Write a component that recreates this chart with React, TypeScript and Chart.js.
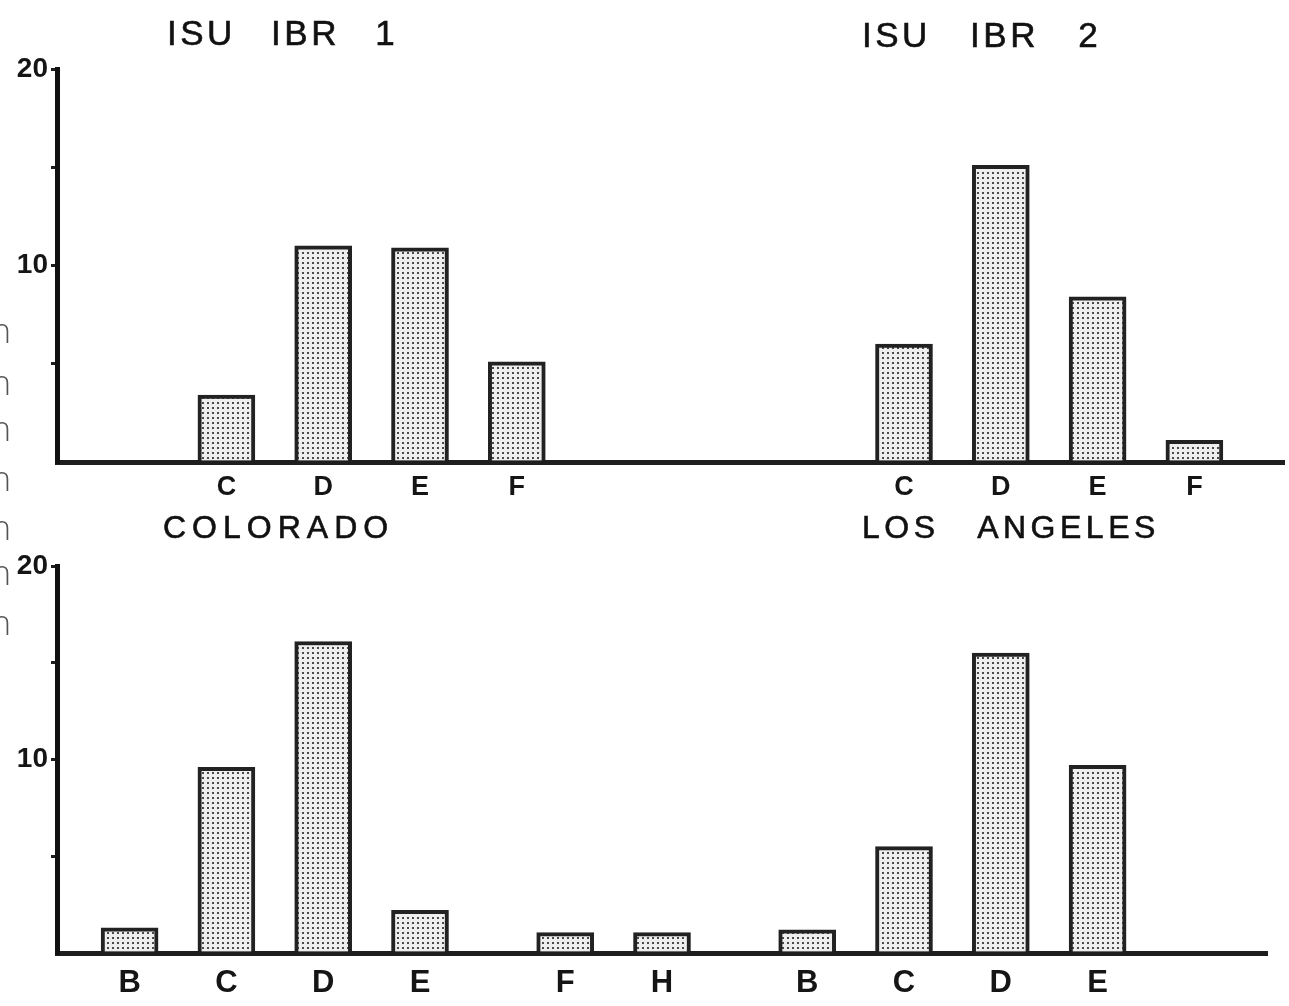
import React, { useEffect, useRef } from "react";
import { Chart, registerables } from "chart.js";

Chart.register(...registerables);

// ---- data ----
const ibr1Categories = ["C", "D", "E", "F"];
const ibr1Values = [3.4, 11.0, 10.9, 5.1];
const ibr2Categories = ["C", "D", "E", "F"];
const ibr2Values = [6.0, 15.1, 8.4, 1.1];
const coloradoCategories = ["B", "C", "D", "E", "F", "H"];
const coloradoValues = [1.3, 9.6, 16.1, 2.2, 1.05, 1.05];
const losAngelesCategories = ["B", "C", "D", "E"];
const losAngelesValues = [1.2, 5.5, 15.5, 9.7];
const yTickLabels = ["10", "20"];
const yMax = 20;
const yStep = 5;

// empty category slots before each bar (last entry = trailing slots)
const topSpacing = [3, 1, 1, 1, 7, 1, 1, 1, 1];
const bottomSpacing = [1, 1, 1, 1, 2, 1, 2, 1, 1, 1, 3];

function buildAxis(cats: string[], vals: number[], gaps: number[]) {
  const labels: string[] = [];
  const data: (number | null)[] = [];
  cats.forEach((c, i) => {
    for (let k = 0; k < gaps[i]; k++) {
      labels.push("");
      data.push(null);
    }
    labels.push(c);
    data.push(vals[i]);
  });
  for (let k = 0; k < gaps[cats.length]; k++) {
    labels.push("");
    data.push(null);
  }
  return { labels, data };
}

function makePattern(): CanvasPattern | string {
  const c = document.createElement("canvas");
  c.width = 5;
  c.height = 5;
  const g = c.getContext("2d");
  if (!g) return "#ddd";
  g.fillStyle = "#eeeeee";
  g.fillRect(0, 0, 5, 5);
  g.fillStyle = "#4a4a4a";
  g.fillRect(2, 2, 2, 2);
  const p = g.createPattern(c, "repeat");
  return p || "#ddd";
}

type PanelProps = {
  top: number;
  height: number;
  padTop: number;
  xHeight: number;
  xFont: number;
  xPad: number;
  extend: number;
  cats: string[];
  vals: number[];
  gaps: number[];
};

const sans = "'Liberation Sans', Arial, sans-serif";

function Panel(props: PanelProps) {
  const ref = useRef<HTMLCanvasElement | null>(null);
  useEffect(() => {
    if (!ref.current) return;
    const { labels, data } = buildAxis(props.cats, props.vals, props.gaps);
    const ext = props.extend;
    const chart = new Chart(ref.current, {
      type: "bar",
      data: {
        labels,
        datasets: [
          {
            data,
            backgroundColor: makePattern() as any,
            borderColor: "#222222",
            borderWidth: 4,
            borderSkipped: "bottom",
            barThickness: 57,
          },
        ],
      },
      options: {
        animation: false,
        responsive: false,
        layout: { padding: { top: props.padTop, left: 0, right: 22, bottom: 0 } },
        plugins: { legend: { display: false }, tooltip: { enabled: false } },
        scales: {
          x: {
            type: "category",
            offset: true,
            grid: { display: false, drawTicks: false },
            border: { display: true, color: "#1e1e1e", width: 5 },
            ticks: {
              autoSkip: false,
              maxRotation: 0,
              minRotation: 0,
              padding: props.xPad,
              color: "#151515",
              font: { family: sans, size: props.xFont, weight: "bold" },
            },
            afterFit: (s: any) => {
              s.height = props.xHeight;
            },
          },
          y: {
            min: 0,
            max: yMax,
            ticks: {
              stepSize: yStep,
              padding: 3,
              color: "#151515",
              font: { family: sans, size: 28, weight: "bold" },
              callback: (v: any) => (yTickLabels.includes(String(v)) ? String(v) : ""),
            },
            grid: {
              drawOnChartArea: false,
              drawTicks: true,
              tickLength: 6,
              lineWidth: 3,
              color: (ctx: any) =>
                ctx.tick && ctx.tick.value === 0 ? "rgba(0,0,0,0)" : "#1e1e1e",
            },
            border: { display: true, color: "#111", width: 5 },
            afterFit: (s: any) => {
              s.width = 57;
            },
          },
        },
      },
      plugins: [
        {
          id: "axisExtend",
          beforeDatasetsDraw(c: any) {
            if (!ext) return;
            const { ctx, chartArea } = c;
            const y = Math.round(chartArea.bottom) + 0.5;
            ctx.save();
            ctx.strokeStyle = "#1e1e1e";
            ctx.lineWidth = 5;
            ctx.beginPath();
            ctx.moveTo(chartArea.right - 4, y);
            ctx.lineTo(chartArea.right + ext, y);
            ctx.stroke();
            ctx.restore();
          },
        },
      ],
    } as any);
    return () => chart.destroy();
  }, []);
  return (
    <canvas
      ref={ref}
      width={1289}
      height={props.height}
      style={{ position: "absolute", left: 0, top: props.top, width: 1289, height: props.height }}
    />
  );
}

function Title(p: { text: string; left: number; top: number; size: number; ls: number; ws: number }) {
  return (
    <div
      style={{
        position: "absolute",
        left: p.left,
        top: p.top,
        fontFamily: sans,
        fontSize: p.size,
        lineHeight: 1,
        letterSpacing: p.ls,
        wordSpacing: p.ws,
        whiteSpace: "pre",
        color: "#111",
        WebkitTextStroke: "0.6px #111",
      }}
    >
      {p.text}
    </div>
  );
}

const edgeMarks = [325, 377, 423, 473, 522, 567, 617];

export default function App() {
  return (
    <div
      style={{
        position: "absolute",
        left: 0,
        top: 0,
        width: 1289,
        height: 1006,
        background: "#fff",
        overflow: "hidden",
      }}
    >
      <Panel
        top={0}
        height={500}
        padTop={69}
        xHeight={38}
        xFont={27}
        xPad={9}
        extend={18}
        cats={[...ibr1Categories, ...ibr2Categories]}
        vals={[...ibr1Values, ...ibr2Values]}
        gaps={topSpacing}
      />
      <Panel
        top={500}
        height={506}
        padTop={66}
        xHeight={53}
        xFont={31}
        xPad={12}
        extend={0}
        cats={[...coloradoCategories, ...losAngelesCategories]}
        vals={[...coloradoValues, ...losAngelesValues]}
        gaps={bottomSpacing}
      />
      <Title text="ISU IBR 1" left={167} top={15} size={35} ls={3.5} ws={22} />
      <Title text="ISU IBR 2" left={862} top={17} size={35} ls={3.5} ws={26} />
      <Title text="COLORADO" left={163} top={511} size={32} ls={6} ws={0} />
      <Title text="LOS ANGELES" left={862} top={511} size={32} ls={4.5} ws={26} />
      {edgeMarks.map((y, i) => (
        <div
          key={i}
          style={{
            position: "absolute",
            left: -9,
            top: y - 12,
            fontFamily: "'Open Sans', sans-serif",
            fontWeight: 300,
            fontSize: 34,
            lineHeight: 1,
            color: "#555",
          }}
        >
          n
        </div>
      ))}
    </div>
  );
}
